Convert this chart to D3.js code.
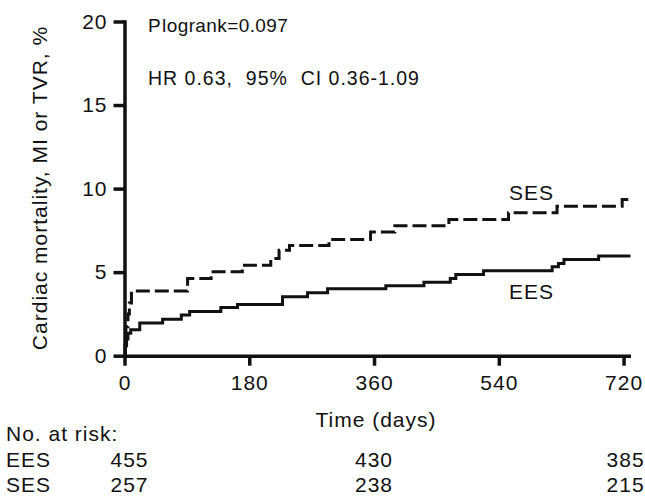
<!DOCTYPE html>
<html>
<head>
<meta charset="utf-8">
<script src="https://cdn.jsdelivr.net/npm/d3@7"></script>
<style>
  body { margin: 0; background: #fff; }
  svg { display: block; font-family: "Liberation Sans", Arial, sans-serif; }
  .axis path, .axis line { stroke: #111; stroke-width: 3.5; }
  .axis text { font-size: 21px; fill: #111; letter-spacing: 1px; }
  .label { font-size: 21px; fill: #111; letter-spacing: 1px; }
</style>
</head>
<body>
<svg width="645" height="498"></svg>
<script>
  'use strict';

  // cumulative event rate (%), step after each time (days)
  const eesDays = [0, 1, 3, 5, 9, 22, 55, 82, 94, 139, 163, 228, 264, 293, 377, 432, 470, 478, 518, 617, 626, 634, 684, 730];
  const eesRate = [0, 0.6, 1.0, 1.35, 1.55, 1.95, 2.18, 2.44, 2.64, 2.88, 3.07, 3.53, 3.77, 4.0, 4.19, 4.40, 4.62, 4.86, 5.08, 5.32, 5.52, 5.75, 5.97, 5.97];
  const sesDays = [0, 1, 2, 5, 7, 10, 91, 125, 170, 211, 223, 238, 295, 355, 390, 468, 554, 624, 718, 730];
  const sesRate = [0, 0.8, 1.74, 2.5, 3.15, 3.87, 4.62, 5.02, 5.42, 5.81, 6.31, 6.6, 6.96, 7.40, 7.78, 8.15, 8.55, 8.95, 9.35, 9.35];

  const xTicks = [0, 180, 360, 540, 720];
  const yTicks = [0, 5, 10, 15, 20];

  const riskDays = [0, 360, 720];
  const riskEES = [455, 430, 385];
  const riskSES = [257, 238, 215];

  const svg = d3.select('svg');

  const xScale = d3.scaleLinear()
    .domain([0, 730])
    .range([124.5, 630.5]);

  const yScale = d3.scaleLinear()
    .domain([0, 20])
    .range([355.7, 21.5]);

  // y axis
  const yAxisG = svg.append('g')
    .attr('class', 'axis')
    .attr('transform', `translate(${xScale(0)},0)`)
    .call(d3.axisLeft(yScale)
      .tickValues(yTicks)
      .tickSize(11)
      .tickSizeOuter(0)
      .tickPadding(6));
  yAxisG.select('.domain').attr('stroke-linecap', 'square');

  // x axis
  svg.append('g')
    .attr('class', 'axis')
    .attr('transform', `translate(0,${yScale(0)})`)
    .call(d3.axisBottom(xScale)
      .tickValues(xTicks)
      .tickSize(10)
      .tickSizeOuter(0)
      .tickPadding(9));

  // curves
  const line = d3.line()
    .curve(d3.curveStepAfter)
    .x(d => xScale(d[0]))
    .y(d => yScale(d[1]));

  svg.append('path')
    .datum(d3.zip(eesDays, eesRate))
    .attr('fill', 'none')
    .attr('stroke', '#111')
    .attr('stroke-width', 3)
    .attr('d', line);

  svg.append('path')
    .datum(d3.zip(sesDays, sesRate))
    .attr('fill', 'none')
    .attr('stroke', '#111')
    .attr('stroke-width', 3)
    .attr('stroke-dasharray', '14,5')
    .attr('d', line);

  // curve labels
  svg.append('text').attr('class', 'label')
    .attr('x', 509).attr('y', 200).text('SES');
  svg.append('text').attr('class', 'label')
    .attr('x', 509).attr('y', 299).text('EES');

  // annotations
  const pText = svg.append('text').attr('class', 'label')
    .attr('x', 148).attr('y', 31.5)
    .style('font-size', '19px')
    .style('letter-spacing', '0.4px');
  pText.append('tspan').text('P');
  pText.append('tspan').attr('dx', 1).text('logrank=0.097');

  svg.append('text').attr('class', 'label')
    .attr('x', 148).attr('y', 85)
    .style('font-size', '19.5px')
    .style('white-space', 'pre')
    .text('HR 0.63,  95%  CI 0.36-1.09');

  // axis titles
  svg.append('text').attr('class', 'label')
    .attr('transform', 'translate(47,188) rotate(-90)')
    .attr('text-anchor', 'middle')
    .text('Cardiac mortality, MI or TVR, %');

  svg.append('text').attr('class', 'label')
    .attr('x', 376).attr('y', 427)
    .attr('text-anchor', 'middle')
    .text('Time (days)');

  // number at risk table
  svg.append('text').attr('class', 'label')
    .attr('x', 6).attr('y', 441).text('No. at risk:');

  const rows = [['EES', riskEES, 467], ['SES', riskSES, 492]];
  rows.forEach(([name, counts, y]) => {
    svg.append('text').attr('class', 'label')
      .attr('x', 6).attr('y', y).text(name);
    svg.selectAll(null)
      .data(counts)
      .enter().append('text')
        .attr('class', 'label')
        .attr('x', (d, i) => xScale(riskDays[i]) + (i === 0 ? 5 : i === 2 ? 2 : 0))
        .attr('y', y)
        .attr('text-anchor', 'middle')
        .text(d => d);
  });
</script>
</body>
</html>
